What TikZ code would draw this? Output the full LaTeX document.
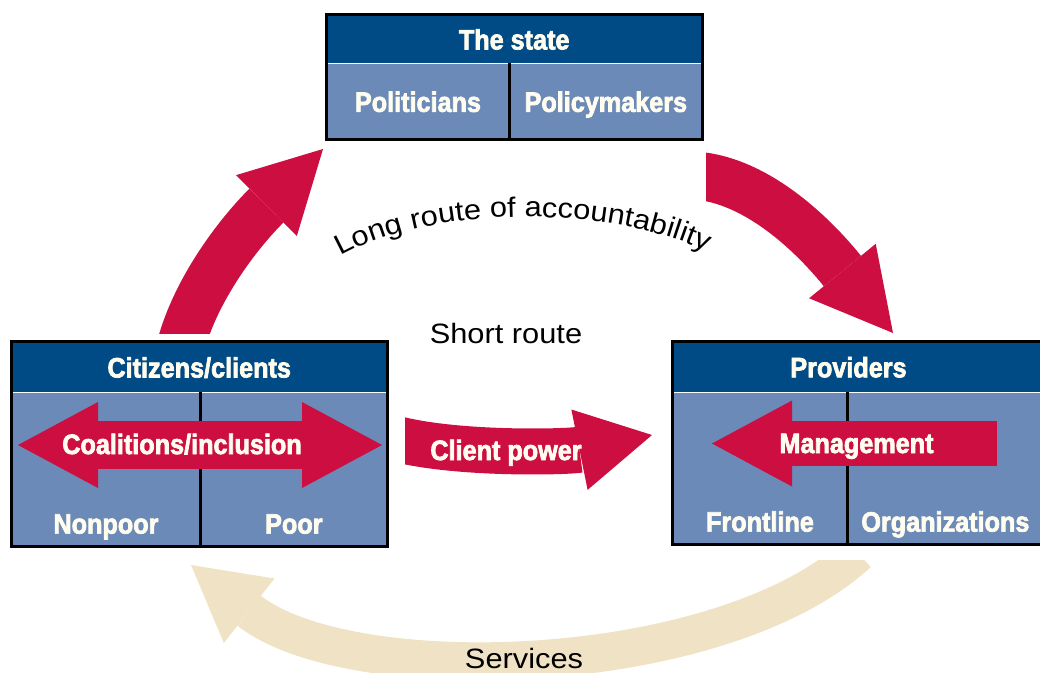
\documentclass[tikz,border=0pt]{standalone}
\usepackage{fontspec}
\usetikzlibrary{arrows.meta,positioning,decorations.text}
\newfontfamily\condfont[FakeStretch=0.9, BoldFeatures={FakeBold=2.5}]{Liberation Sans}
\newfontfamily\routefont[FakeStretch=1.1]{Liberation Sans}
\newcommand{\routestyle}{\routefont\fontsize{28}{30}\selectfont}
\definecolor{headblue}{RGB}{0,75,133}
\definecolor{cellblue}{RGB}{107,138,183}
\definecolor{routered}{RGB}{204,14,64}
\definecolor{servbeige}{RGB}{240,226,196}
\definecolor{cream}{RGB}{255,252,240}
\tikzset{
  boxtext/.style = {text=cream, inner sep=0pt, text height=21pt, text depth=0pt,
    font=\condfont\bfseries\fontsize{28}{30}\selectfont},
  header/.style = {boxtext, fill=headblue, anchor=north west},% title bar
  cell/.style = {boxtext, fill=cellblue, anchor=north west},% lower case
  frame/.style = {draw=black, line width=3.5pt},
  divider/.style = {draw=black, line width=3pt},
  bigarrow/.style = {draw=routered, line width=48pt},
  servarrow/.style = {draw=servbeige, line width=38pt},
  route/.style = {font=\routestyle, inner sep=0pt}
}
\begin{document}
\begin{tikzpicture}[x=1pt, y=-1pt,
  >={Triangle[length=80pt, width=86pt, line width=0pt 0 0]}]
\useasboundingbox (0,0) rectangle (1040,672);
% the state
\node [header, minimum width=375pt, minimum height=48.5pt] (state) at (326.5,14.5) {The state};
\node [cell, minimum width=182.5pt, minimum height=75.5pt,
  below right=0pt of state.south west] (politicians) {Politicians};
\node [cell, minimum width=192.5pt, minimum height=75.5pt,
  right=0pt of politicians] (policymakers) {Policymakers};
\draw [frame] (state.north west) rectangle (policymakers.south east);
\draw [divider] (politicians.north east) -- (politicians.south east);
% citizens
\node [header, minimum width=375pt, minimum height=50.5pt] (citizens) at (11.5,341.5) {Citizens/clients};
\node [cell, minimum width=188.5pt, minimum height=153.5pt,
  below right=0pt of citizens.south west] (nonpoor) {};
\node [cell, minimum width=186.5pt, minimum height=153.5pt,
  right=0pt of nonpoor] (poor) {};
\draw [frame] (citizens.north west) rectangle (poor.south east);
\draw [divider] (nonpoor.north east) -- (nonpoor.south east);
% providers
\node [header, minimum width=370pt, minimum height=50.5pt] (providers) at (672.5,341.5) {};
\node [cell, minimum width=174.5pt, minimum height=151.5pt,
  below right=0pt of providers.south west] (frontline) {};
\node [cell, minimum width=195.5pt, minimum height=151.5pt,
  right=0pt of frontline] (organizations) {};
\draw [frame] (providers.north west) rectangle (organizations.south east);
\draw [divider] (frontline.north east) -- (frontline.south east);
\node [boxtext] (providerstitle) at (848.5,366.75) {Providers};

% arrows inside the boxes
\coordinate (coalleft) at (18,445);
\coordinate (coalright) at (382,445);
\draw [bigarrow, <->] (coalleft) -- (coalright);
\coordinate (mgmtstart) at (997,443.5);
\coordinate (mgmtend) at (712,443.5);
\draw [bigarrow, line width=45pt, ->] (mgmtstart) -- (mgmtend);

% long route
\coordinate (citout) at (181,345);
\coordinate (statein) at (323,149);
\coordinate (stateout) at (694,175.5);
\coordinate (provin) at (893,333);
\begin{scope}
  \clip (0,0) rectangle (1040,333);
  \draw [bigarrow, ->] (citout) .. controls (196,290) and (236,236) .. (statein);
\end{scope}
\begin{scope}
  \clip (706,0) rectangle (1040,333);
  \draw [bigarrow, ->] (stateout) .. controls (770,180) and (835,262) .. (provin);
\end{scope}
\path [decorate, decoration={text along path, text align=center,
  text={|\routestyle|Long route of accountability}}]
  (337,258) .. controls (430,204) and (610,204) .. (710,253);

% short route
\coordinate (powerstart) at (393,438);
\coordinate (powerend) at (652,435);
\begin{scope}
  \clip (405,0) rectangle (1040,672);
  \draw [bigarrow, line width=46pt, -{Triangle[length=74pt, width=82pt, line width=0pt 0 0]}]
    (powerstart) .. controls (455,455) and (568,452) .. (powerend);
\end{scope}
\node [route] (shortroute) at (506,333) {Short route};

% services
\coordinate (servstart) at (858,553);
\coordinate (servend) at (191,565);
\begin{scope}
  \clip (0,560) rectangle (1040,672);
  \draw [servarrow, -{Triangle[length=74pt, width=82pt, line width=0pt 0 0]}]
    (servstart) .. controls (720,680) and (350,690) .. (servend);
\end{scope}
\node [route] (services) at (524,658) {Services};

% labels
\node [boxtext] (coaltext) at (182,443.5) {Coalitions/inclusion};
\node [boxtext] (mgmttext) at (856.5,442.5) {Management};
\node [boxtext] (powertext) at (506,449.5) {Client power};
\node [boxtext, above=12.5pt of nonpoor.south] (nonpoortext) {Nonpoor};
\node [boxtext, above=12.5pt of poor.south] (poortext) {Poor};
\node [boxtext, above=12.5pt of frontline.south] (frontlinetext) {Frontline};
\node [boxtext, above=12.5pt of organizations.south] (organizationstext) {Organizations};
\end{tikzpicture}
\end{document}
